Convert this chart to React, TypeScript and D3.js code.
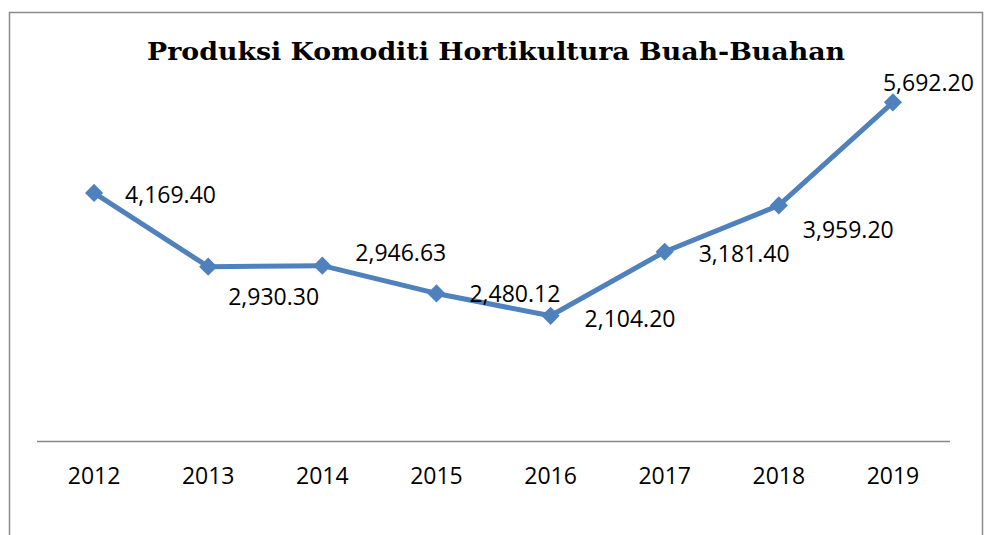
import React from 'react'
import * as d3 from 'd3'

const years = ['2012', '2013', '2014', '2015', '2016', '2017', '2018', '2019']
const production = [4169.4, 2930.3, 2946.63, 2480.12, 2104.2, 3181.4, 3959.2, 5692.2]
// label offsets relative to each marker (dx, dy to baseline)
const labelDx = [31, 20, 33, 33, 34, 34, 24, -10]
const labelDy = [10, 38, -5, 9, 11, 10, 33, -11]

const title = 'Produksi Komoditi Hortikultura Buah-Buahan'

const App = () => {
  const width = 985
  const height = 535
  const margin = { top: 84, right: 35, bottom: 94, left: 37 }
  const axisY = height - margin.bottom

  const xScale = d3
    .scaleBand()
    .domain(years)
    .range([margin.left, width - margin.right])
  const yScale = d3.scaleLinear().domain([0, 6000]).range([axisY, margin.top])

  const xPos = (i) => xScale(years[i]) + xScale.bandwidth() / 2
  const line = d3
    .line()
    .x((d, i) => xPos(i))
    .y((d) => yScale(d))
  const fmt = d3.format(',.2f')
  const diamond = d3.symbol().type(d3.symbolDiamond2).size(210)()
  const font = "'Open Sans', sans-serif"

  return (
    <svg
      width={width}
      height={height}
      style={{ position: 'absolute', left: 0, top: 0, background: '#fff' }}
    >
      <path d='M9.5,540 V12.5 H982.5 V540' fill='none' stroke='#8c8c8c' strokeWidth={1.5} />
      <text
        x={496}
        y={60}
        textAnchor='middle'
        fontFamily="'DejaVu Serif', serif"
        fontWeight='bold'
        fontSize={25}
        textLength={698}
        lengthAdjust='spacingAndGlyphs'
        fill='#000'
      >
        {title}
      </text>
      <line
        x1={margin.left}
        x2={width - margin.right}
        y1={axisY + 0.5}
        y2={axisY + 0.5}
        stroke='#868686'
        strokeWidth={1.5}
      />
      {years.map((y, i) => (
        <text
          key={y}
          x={xPos(i)}
          y={484}
          textAnchor='middle'
          fontFamily={font}
          fontSize={23}
          fill='#000'
        >
          {y}
        </text>
      ))}
      <path
        d={line(production)}
        fill='none'
        stroke='#4f81bd'
        strokeWidth={5}
        strokeLinejoin='round'
      />
      {production.map((v, i) => (
        <path
          key={i}
          d={diamond}
          transform={`translate(${xPos(i)},${yScale(v)})`}
          fill='#4f81bd'
        />
      ))}
      {production.map((v, i) => (
        <text
          key={'l' + i}
          x={xPos(i) + labelDx[i]}
          y={yScale(v) + labelDy[i]}
          fontFamily={font}
          fontSize={23}
          fill='#000'
        >
          {fmt(v)}
        </text>
      ))}
    </svg>
  )
}

export default App
